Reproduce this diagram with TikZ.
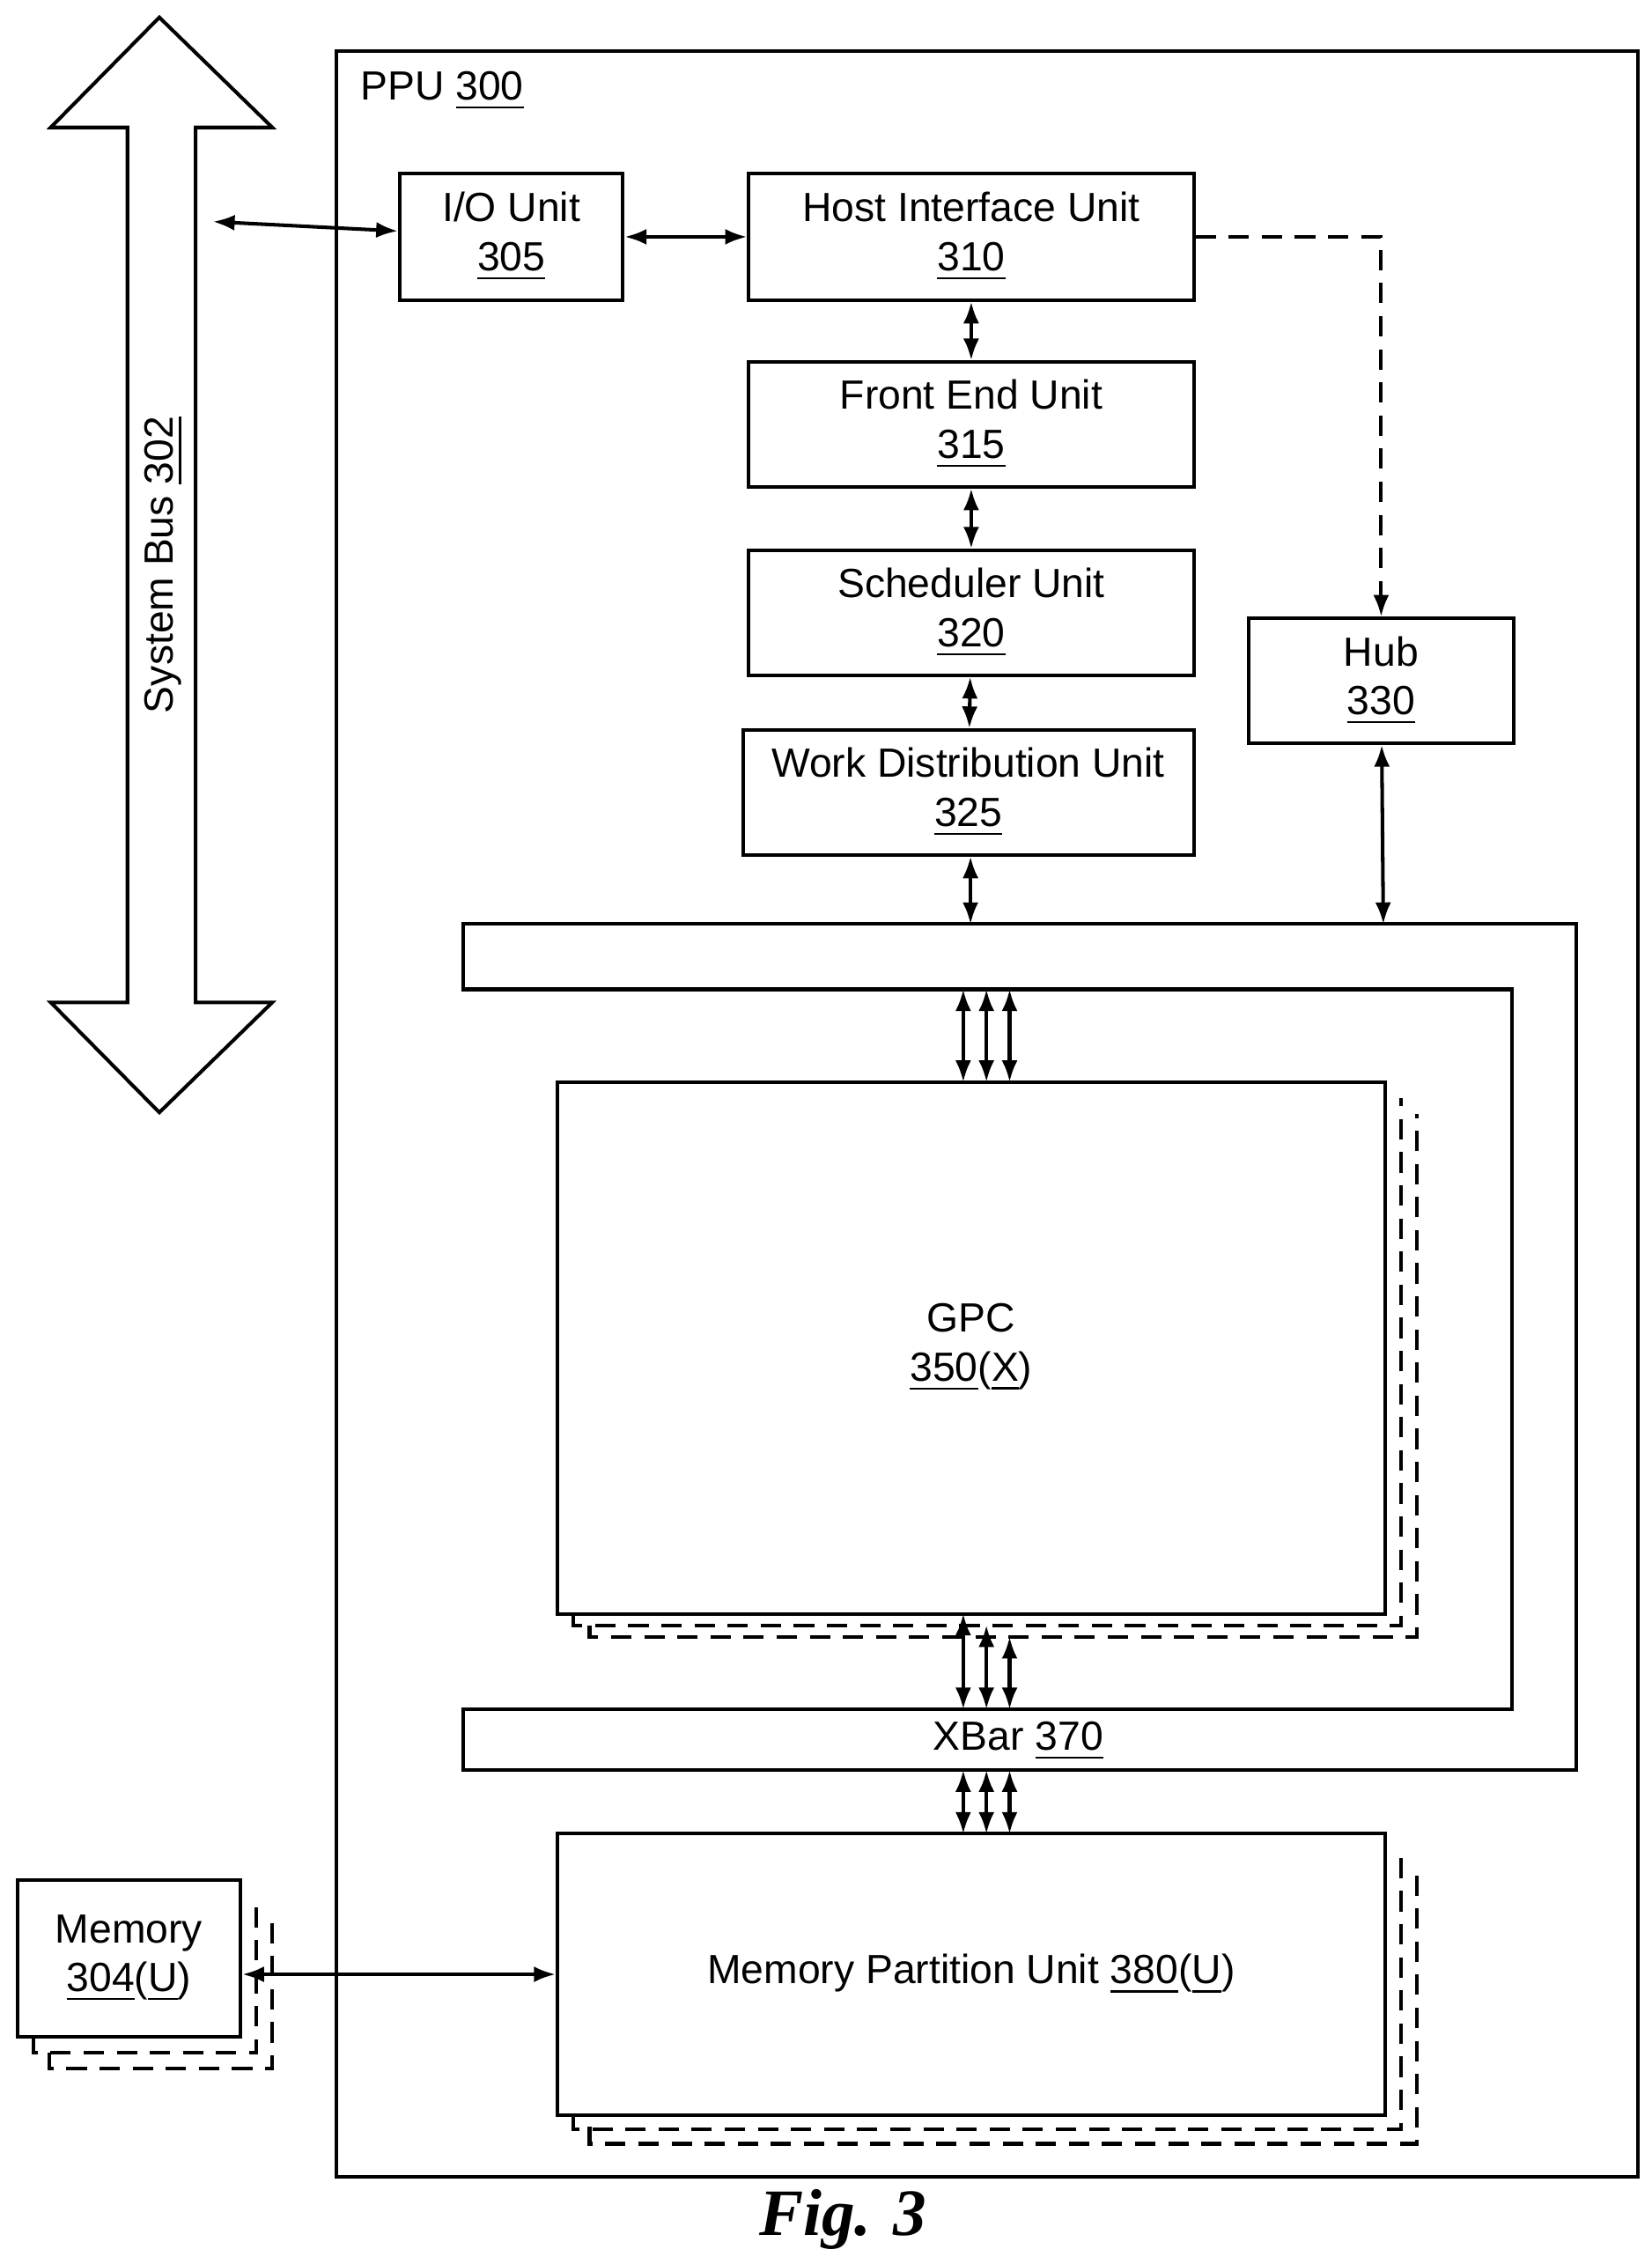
\documentclass[tikz,border=0pt]{standalone}
\usepackage{fontspec}
\setmainfont{Liberation Sans}
\newfontfamily\figfont{Liberation Serif}
\usetikzlibrary{positioning,arrows.meta}

\begin{document}
\begin{tikzpicture}[x=0.01cm,y=-0.01cm,>={Latex[length=1.5mm,width=1.1mm]},
  line width=0.7pt, font=\fontsize{8}{9.6}\selectfont]
  % styles for units and connectors
  \tikzset{
    unit/.style={rectangle, draw, align=center, inner sep=1pt},
    link/.style={<->},
    shadow/.style={dash pattern=on 4pt off 2.5pt}
  }
  \useasboundingbox (0,0) rectangle (1140,1563);

  % system bus
  \draw (110,12) -- (188,88) -- (135,88) -- (135,692) -- (188,692) -- (110,768)
    -- (35,692) -- (88,692) -- (88,88) -- (35,88) -- cycle;
  \node[rotate=90] (bus) at (113,390) {System Bus \underline{302}};
  \coordinate (busport) at (147,153);

  % PPU frame
  \draw (232,35) rectangle (1131,1503);
  \node[anchor=west] (ppu) at (236,63) {PPU \underline{300}};

  % front units
  \node[unit, minimum width=1.54cm, minimum height=0.87cm] (io) at (353,163.5) {I/O Unit\\\underline{305}};
  \node[unit, minimum width=3.07cm, minimum height=0.87cm] (host) at (670.5,163.5) {Host Interface Unit\\\underline{310}};
  \node[unit, minimum width=3.07cm, minimum height=0.86cm] (front) at (670.5,293) {Front End Unit\\\underline{315}};
  \node[unit, minimum width=3.07cm, minimum height=0.86cm] (sched) at (670.5,423) {Scheduler Unit\\\underline{320}};
  \node[unit, minimum width=3.11cm, minimum height=0.86cm] (wdu) at (668.5,547) {Work Distribution Unit\\\underline{325}};
  \node[unit, minimum width=1.83cm, minimum height=0.86cm] (hub) at (953.5,470) {Hub\\\underline{330}};

  % crossbar
  \draw (320,638) -- (1088,638) -- (1088,1222) -- (320,1222) -- (320,1180)
    -- (1044,1180) -- (1044,683) -- (320,683) -- cycle;
  \node (xbar) at (703,1202) {XBar \underline{370}};
  \coordinate (xwdu) at (670,638);
  \coordinate (xhub) at (955,638);

  % GPC stack
  \draw[shadow] (407,1122) |- (978,1130) -- (978,769);
  \draw[shadow] (396,1114) |- (967,1122) -- (967,758);
  \node[unit, fill=white, minimum width=5.71cm, minimum height=3.67cm] (gpc) at (670.5,930.5) {GPC\\\underline{350}(\underline{X})};

  % memory partition stack
  \draw[shadow] (407,1468) |- (978,1480) -- (978,1288);
  \draw[shadow] (396,1460) |- (967,1470) -- (967,1277);
  \node[unit, fill=white, minimum width=5.71cm, minimum height=1.94cm] (mpu) at (670.5,1363) {Memory Partition Unit \underline{380}(\underline{U})};

  % memory stack
  \draw[shadow] (34,1417) |- (188,1428) -- (188,1320);
  \draw[shadow] (23,1406) |- (177,1417) -- (177,1309);
  \node[unit, fill=white, minimum width=1.54cm, minimum height=1.08cm] (mem) at (89,1352) {Memory\\\underline{304}(\underline{U})};

  % connectors
  \draw[link] (busport) -- (io);
  \draw[link] (io) -- (host);
  \draw[link] (host) -- (front);
  \draw[link] (front) -- (sched);
  \draw[link] (sched) -- (wdu);
  \draw[link] (wdu.south -| xwdu) -- (xwdu);
  \draw[->, shadow] (host.east) -| (hub.north);
  \draw[link] (hub) -- (xhub);
  \draw[link] (mem.east |- mpu) -- (mpu);
  \foreach \dx/\gy in {665/1114, 681/1122, 697/1130} {
    \draw[link] (\dx,683) -- (\dx,747);
    \draw[link] (\dx,\gy) -- (\dx,1180);
    \draw[link] (\dx,1222) -- (\dx,1266);
  }

  \node[font=\figfont\bfseries\itshape\fontsize{13}{15}\selectfont] (fig) at (582,1532) {Fig. 3};
\end{tikzpicture}
\end{document}
